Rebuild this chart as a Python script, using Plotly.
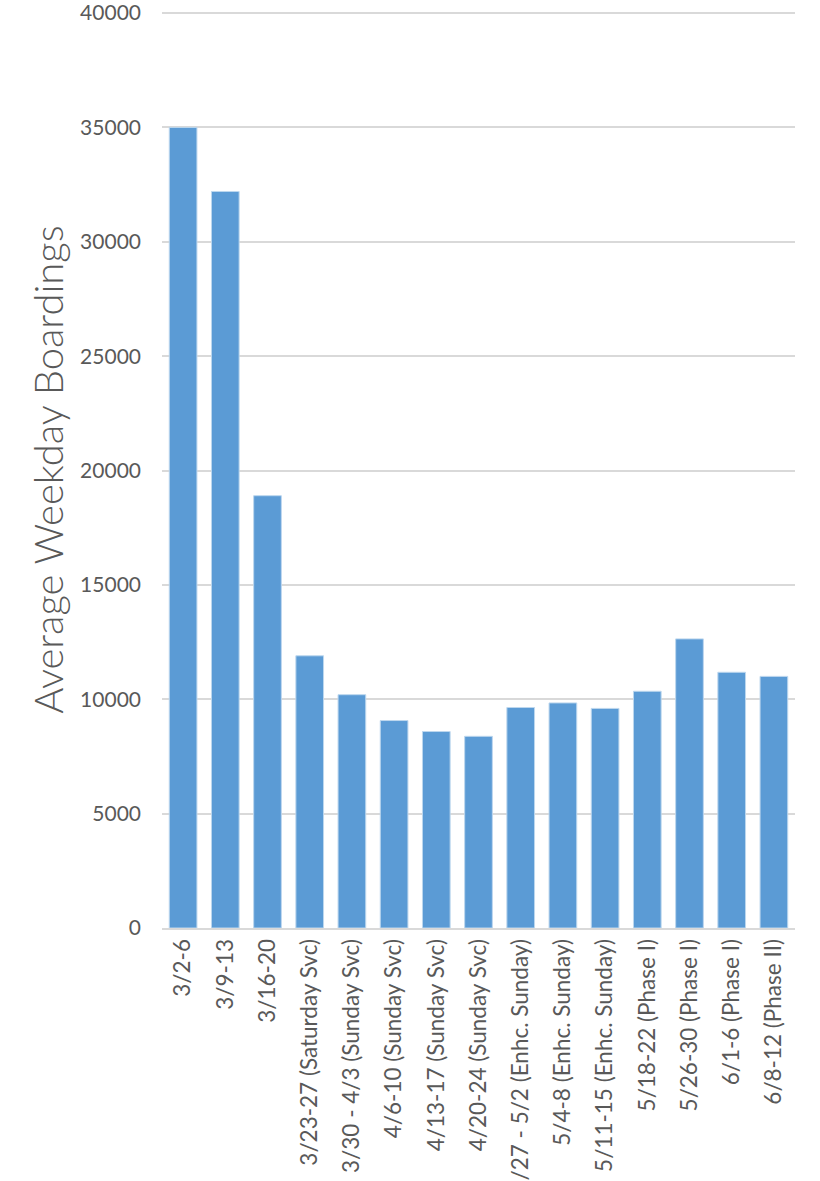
import plotly.graph_objects as go

categories = [
    "3/2-6", "3/9-13", "3/16-20", "3/23-27 (Saturday Svc)", "3/30 - 4/3 (Sunday Svc)",
    "4/6-10 (Sunday Svc)", "4/13-17 (Sunday Svc)", "4/20-24 (Sunday Svc)",
    "4/27 - 5/2 (Enhc. Sunday)", "5/4-8 (Enhc. Sunday)", "5/11-15 (Enhc. Sunday)",
    "5/18-22 (Phase I)", "5/26-30 (Phase I)", "6/1-6 (Phase I)", "6/8-12 (Phase II)",
]
boardings = [35000, 32200, 18900, 11900, 10200, 9070, 8590, 8380,
             9640, 9840, 9600, 10350, 12640, 11180, 11000]
y_ticks = [0, 5000, 10000, 15000, 20000, 25000, 30000, 35000, 40000]

fig = go.Figure(go.Bar(
    x=categories, y=boardings,
    marker=dict(color="#5B9BD5", line=dict(color="#BDD7EE", width=1)),
))

fig.update_layout(
    width=820, height=1181,
    margin=dict(l=162, r=25, t=11, b=253, autoexpand=False),
    paper_bgcolor="white", plot_bgcolor="white",
    bargap=0.344, showlegend=False,
    font=dict(family="Lato", color="#595959"),
)
fig.update_xaxes(
    tickangle=-90, tickfont=dict(size=22.5, color="#595959"),
    showline=True, linecolor="#D9D9D9", linewidth=2,
    ticks="", automargin=False,
)
fig.update_yaxes(
    range=[0, 40090], tickvals=y_ticks, ticktext=[str(v) for v in y_ticks],
    showgrid=True, gridcolor="#D9D9D9", gridwidth=1.5,
    tickfont=dict(size=21, color="#595959"), ticklabelstandoff=20,
    ticklabeloverflow="allow",
    zeroline=False, showline=False, automargin=False,
    title=dict(text="Average Weekday Boardings",
               font=dict(size=40, color="#595959", weight=300), standoff=4),
)

fig.write_html("out.html",
               config={"displayModeBar": False},
               post_script="document.body.style.margin='0px';document.body.style.overflow='hidden';")
